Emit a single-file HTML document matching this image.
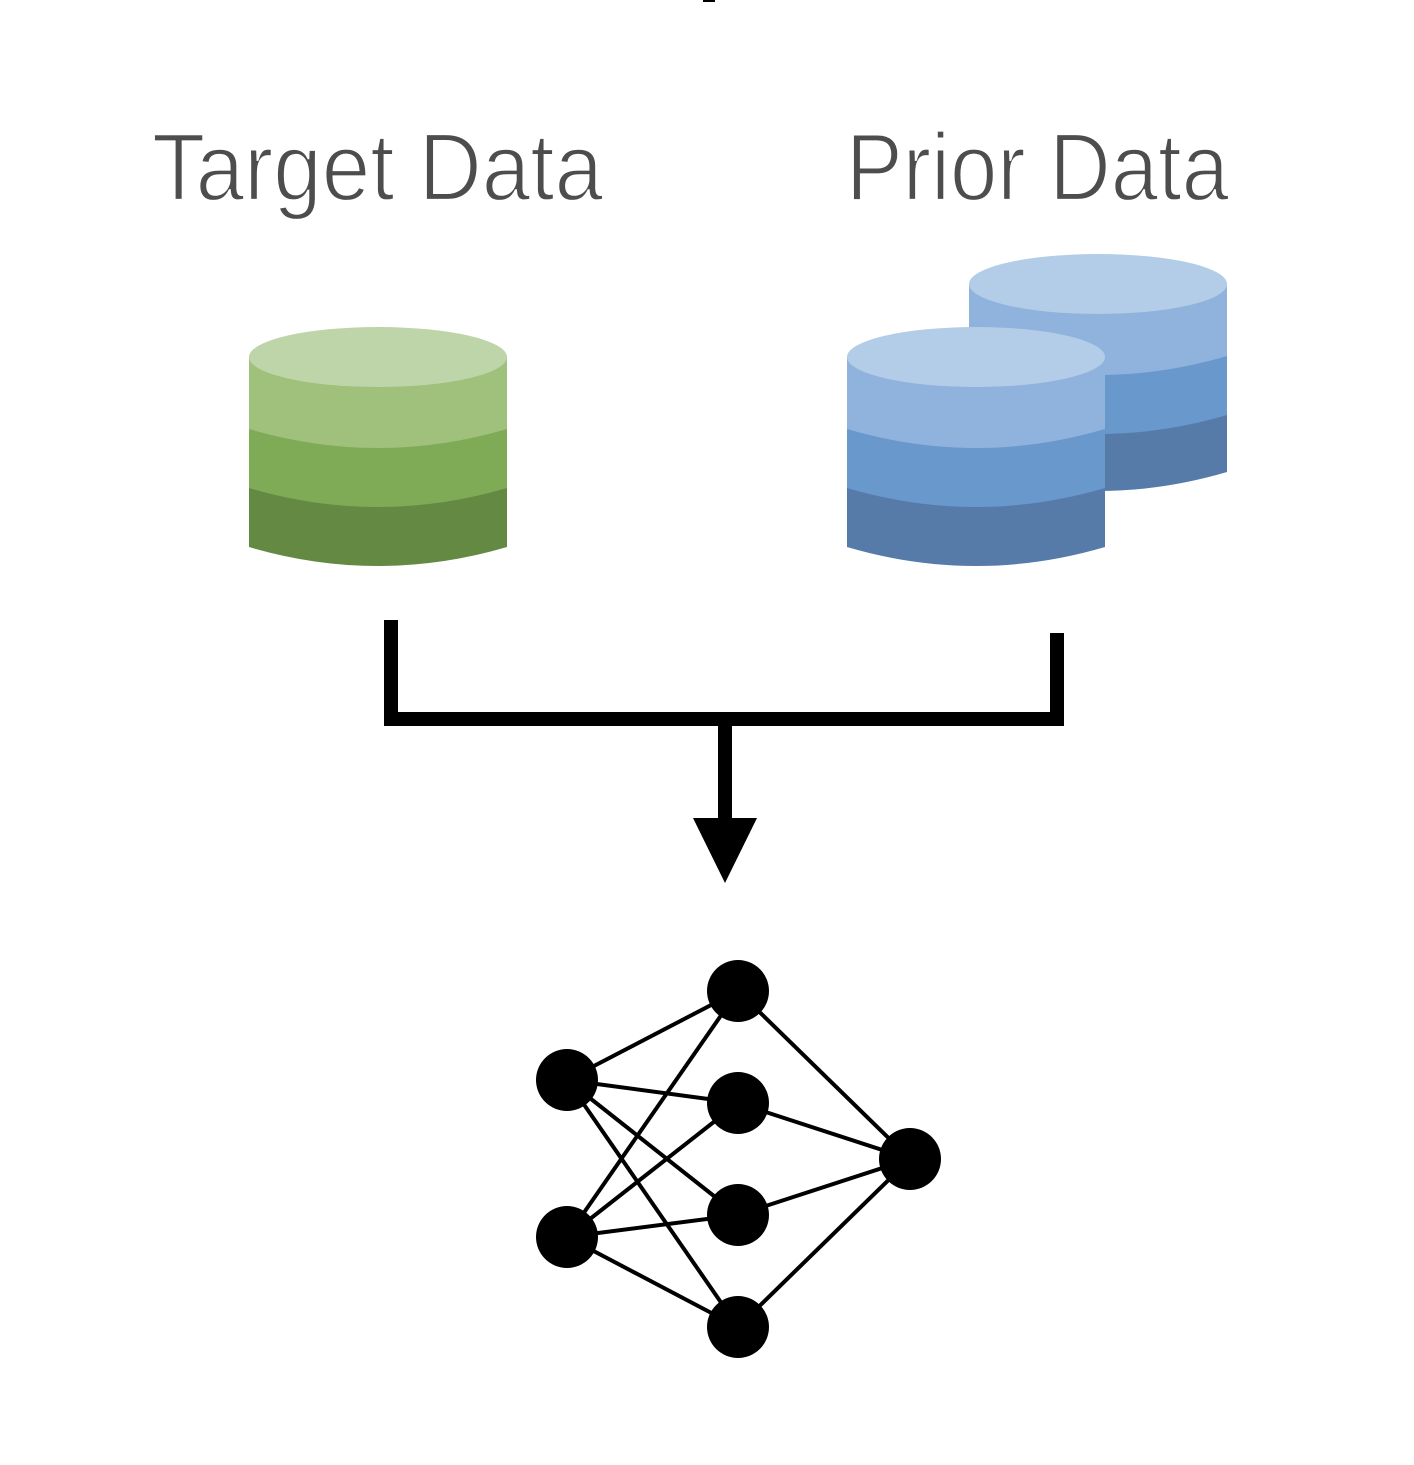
<!DOCTYPE html>
<html><head><style>html,body{margin:0;padding:0;background:#fff}</style></head>
<body>
<svg width="1414" height="1460" viewBox="0 0 1414 1460" xmlns="http://www.w3.org/2000/svg">
<rect x="703" y="0" width="12" height="2" fill="#000"/>
<g font-family="Liberation Sans, sans-serif" font-size="96" fill="#4d4d4d" stroke="#fff" stroke-width="2.2">
<text x="152" y="200" textLength="451" lengthAdjust="spacingAndGlyphs">Target Data</text>
<text x="846" y="200" textLength="383" lengthAdjust="spacingAndGlyphs">Prior Data</text>
</g>
<g transform="translate(969,284)">
<path d="M0,130 Q129,168 258,130 L258,188 Q129,226 0,188 Z" fill="#567ba8"/>
<path d="M0,71 Q129,109 258,71 L258,131 Q129,169 0,131 Z" fill="#6998cd"/>
<path d="M0,0 L258,0 L258,72 Q129,110 0,72 Z" fill="#8fb3dc"/>
<ellipse cx="129" cy="0" rx="129" ry="30" fill="#b3cce7"/>
</g>
<g transform="translate(847,357)">
<path d="M0,130 Q129,168 258,130 L258,190 Q129,228 0,190 Z" fill="#567ba8"/>
<path d="M0,71 Q129,109 258,71 L258,131 Q129,169 0,131 Z" fill="#6998cd"/>
<path d="M0,0 L258,0 L258,72 Q129,110 0,72 Z" fill="#8fb3dc"/>
<ellipse cx="129" cy="0" rx="129" ry="30" fill="#b3cce7"/>
</g>
<g transform="translate(249,357)">
<path d="M0,130 Q129,168 258,130 L258,190 Q129,228 0,190 Z" fill="#648943"/>
<path d="M0,71 Q129,109 258,71 L258,131 Q129,169 0,131 Z" fill="#7fab56"/>
<path d="M0,0 L258,0 L258,72 Q129,110 0,72 Z" fill="#9fc17c"/>
<ellipse cx="129" cy="0" rx="129" ry="30" fill="#bed5aa"/>
</g>
<g stroke="#000" stroke-width="14" fill="none">
<polyline points="391,620 391,719 1057,719 1057,633"/>
<line x1="725" y1="719" x2="725" y2="822"/>
</g>
<polygon points="693,818 757,818 725,883" fill="#000"/>
<g stroke="#000" stroke-width="4">
<line x1="567" y1="1080" x2="738" y2="991"/>
<line x1="567" y1="1080" x2="738" y2="1103"/>
<line x1="567" y1="1080" x2="738" y2="1215"/>
<line x1="567" y1="1080" x2="738" y2="1327"/>
<line x1="567" y1="1237" x2="738" y2="991"/>
<line x1="567" y1="1237" x2="738" y2="1103"/>
<line x1="567" y1="1237" x2="738" y2="1215"/>
<line x1="567" y1="1237" x2="738" y2="1327"/>
<line x1="910" y1="1159" x2="738" y2="991"/>
<line x1="910" y1="1159" x2="738" y2="1103"/>
<line x1="910" y1="1159" x2="738" y2="1215"/>
<line x1="910" y1="1159" x2="738" y2="1327"/>
</g>
<g fill="#000">
<circle cx="567" cy="1080" r="31"/>
<circle cx="567" cy="1237" r="31"/>
<circle cx="738" cy="991" r="31"/>
<circle cx="738" cy="1103" r="31"/>
<circle cx="738" cy="1215" r="31"/>
<circle cx="738" cy="1327" r="31"/>
<circle cx="910" cy="1159" r="31"/>
</g>
</svg>
</body></html>
